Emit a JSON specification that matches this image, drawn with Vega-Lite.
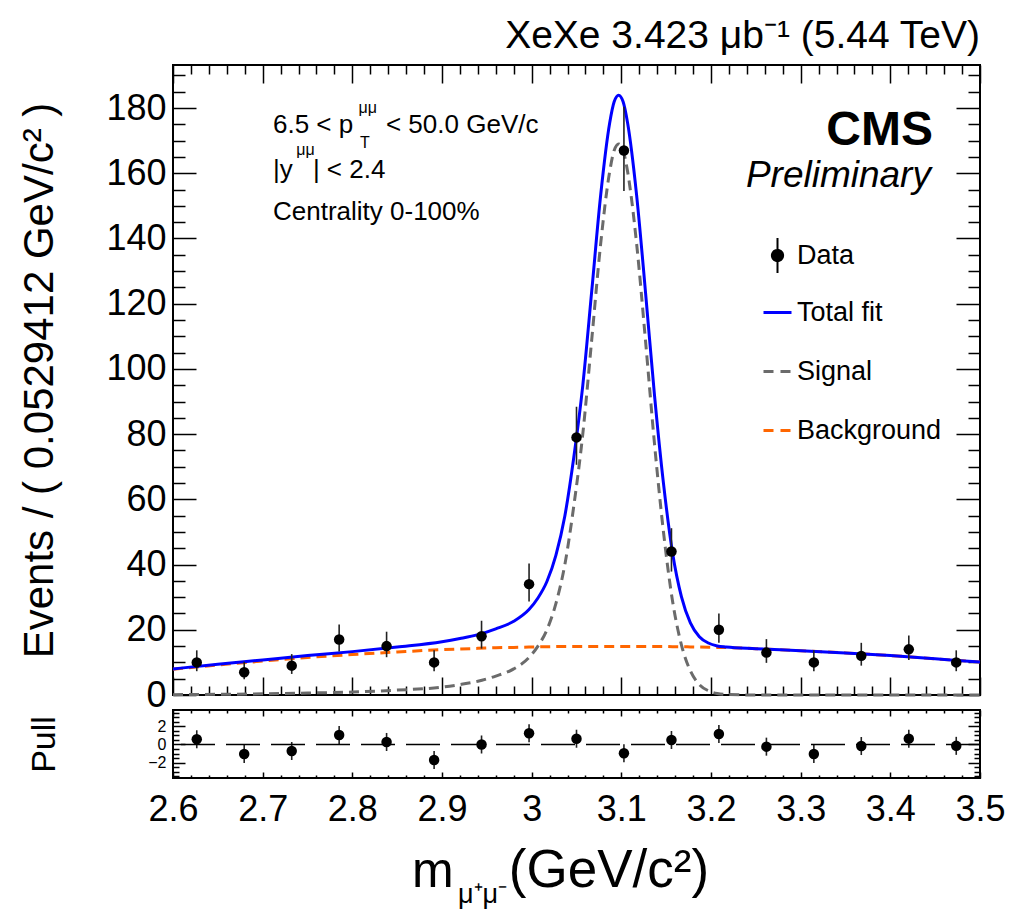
{
  "$schema": "https://vega.github.io/schema/vega-lite/v6.json",
  "padding": {"left": 17, "top": 16, "right": 0, "bottom": 0},
  "autosize": {"type": "pad"},
  "background": "white",
  "config": {
    "font": "Liberation Sans",
    "view": {"stroke": "black", "strokeWidth": 2},
    "axis": {"grid": false, "domain": false, "tickColor": "black", "tickWidth": 1.5, "labelColor": "black", "titleColor": "black", "labelFont": "Liberation Sans", "titleFont": "Liberation Sans", "titleFontWeight": "normal"}
  },
  "datasets": {
    "bins": [
      {"m": 2.6265, "n": 10, "lo": 7.3, "hi": 13.7, "pull": 0.58, "plo": -0.42, "phi": 1.58},
      {"m": 2.6794, "n": 7, "lo": 4.81, "hi": 10.19, "pull": -1.06, "plo": -2.06, "phi": -0.06},
      {"m": 2.7324, "n": 9, "lo": 6.46, "hi": 12.54, "pull": -0.72, "plo": -1.72, "phi": 0.28},
      {"m": 2.7853, "n": 17, "lo": 13.35, "hi": 21.65, "pull": 1.06, "plo": 0.06, "phi": 2.06},
      {"m": 2.8382, "n": 15, "lo": 11.59, "hi": 19.41, "pull": 0.28, "plo": -0.72, "phi": 1.28},
      {"m": 2.8912, "n": 10, "lo": 7.3, "hi": 13.7, "pull": -1.72, "plo": -2.72, "phi": -0.72},
      {"m": 2.9441, "n": 18, "lo": 14.23, "hi": 22.77, "pull": 0.0, "plo": -1.0, "phi": 1.0},
      {"m": 2.9971, "n": 34, "lo": 28.65, "hi": 40.35, "pull": 1.24, "plo": 0.24, "phi": 2.24},
      {"m": 3.05, "n": 79, "lo": 70.6, "hi": 88.4, "pull": 0.64, "plo": -0.36, "phi": 1.64},
      {"m": 3.1029, "n": 167, "lo": 154.57, "hi": 180.43, "pull": -0.98, "plo": -1.98, "phi": 0.02},
      {"m": 3.1559, "n": 44, "lo": 37.85, "hi": 51.15, "pull": 0.5, "plo": -0.5, "phi": 1.5},
      {"m": 3.2088, "n": 20, "lo": 16.0, "hi": 25.0, "pull": 1.17, "plo": 0.17, "phi": 2.17},
      {"m": 3.2618, "n": 13, "lo": 9.86, "hi": 17.14, "pull": -0.24, "plo": -1.24, "phi": 0.76},
      {"m": 3.3147, "n": 10, "lo": 7.3, "hi": 13.7, "pull": -1.06, "plo": -2.06, "phi": -0.06},
      {"m": 3.3676, "n": 12, "lo": 9.0, "hi": 16.0, "pull": -0.17, "plo": -1.17, "phi": 0.83},
      {"m": 3.4206, "n": 14, "lo": 10.73, "hi": 18.27, "pull": 0.65, "plo": -0.35, "phi": 1.65},
      {"m": 3.4735, "n": 10, "lo": 7.3, "hi": 13.7, "pull": -0.15, "plo": -1.15, "phi": 0.85}
    ],
    "curves": [
      {"m": 2.6, "signal": 0.1, "background": 7.9, "total": 8.0},
      {"m": 2.65, "signal": 0.2, "background": 9.2, "total": 9.4},
      {"m": 2.7, "signal": 0.35, "background": 10.4, "total": 10.75},
      {"m": 2.75, "signal": 0.6, "background": 11.5, "total": 12.1},
      {"m": 2.8, "signal": 0.9, "background": 12.4, "total": 13.3},
      {"m": 2.85, "signal": 1.5, "background": 13.2, "total": 14.7},
      {"m": 2.9, "signal": 2.4, "background": 13.9, "total": 16.3},
      {"m": 2.92, "signal": 3.2, "background": 14.1, "total": 17.3},
      {"m": 2.94, "signal": 4.2, "background": 14.3, "total": 18.5},
      {"m": 2.96, "signal": 5.8, "background": 14.5, "total": 20.3},
      {"m": 2.98, "signal": 8.0, "background": 14.6, "total": 22.6},
      {"m": 2.997, "signal": 11.5, "background": 14.7, "total": 26.2},
      {"m": 3.007, "signal": 15.0, "background": 14.75, "total": 29.75},
      {"m": 3.017, "signal": 20.0, "background": 14.8, "total": 34.8},
      {"m": 3.027, "signal": 28.0, "background": 14.85, "total": 42.85},
      {"m": 3.037, "signal": 40.0, "background": 14.9, "total": 54.9},
      {"m": 3.047, "signal": 58.0, "background": 14.9, "total": 72.9},
      {"m": 3.057, "signal": 80.0, "background": 14.9, "total": 94.9},
      {"m": 3.067, "signal": 109.0, "background": 14.9, "total": 123.9},
      {"m": 3.077, "signal": 138.5, "background": 14.9, "total": 153.4},
      {"m": 3.087, "signal": 160.5, "background": 14.9, "total": 175.4},
      {"m": 3.092, "signal": 167.0, "background": 14.9, "total": 181.9},
      {"m": 3.097, "signal": 169.0, "background": 14.9, "total": 183.9},
      {"m": 3.102, "signal": 167.0, "background": 14.9, "total": 181.9},
      {"m": 3.107, "signal": 160.5, "background": 14.9, "total": 175.4},
      {"m": 3.117, "signal": 138.5, "background": 14.9, "total": 153.4},
      {"m": 3.127, "signal": 108.5, "background": 14.9, "total": 123.4},
      {"m": 3.137, "signal": 77.0, "background": 14.9, "total": 91.9},
      {"m": 3.147, "signal": 50.0, "background": 14.9, "total": 64.9},
      {"m": 3.157, "signal": 29.0, "background": 14.8, "total": 43.8},
      {"m": 3.167, "signal": 15.4, "background": 14.8, "total": 30.2},
      {"m": 3.177, "signal": 7.4, "background": 14.75, "total": 22.15},
      {"m": 3.187, "signal": 3.2, "background": 14.7, "total": 17.9},
      {"m": 3.197, "signal": 1.3, "background": 14.65, "total": 15.95},
      {"m": 3.207, "signal": 0.45, "background": 14.6, "total": 15.05},
      {"m": 3.217, "signal": 0.15, "background": 14.55, "total": 14.7},
      {"m": 3.25, "signal": 0.0, "background": 14.2, "total": 14.2},
      {"m": 3.3, "signal": 0.0, "background": 13.6, "total": 13.6},
      {"m": 3.35, "signal": 0.0, "background": 12.9, "total": 12.9},
      {"m": 3.4, "signal": 0.0, "background": 12.1, "total": 12.1},
      {"m": 3.45, "signal": 0.0, "background": 11.1, "total": 11.1},
      {"m": 3.5, "signal": 0.0, "background": 10.1, "total": 10.1}
    ],
    "one": [{}]
  },
  "resolve": {"scale": {"color": "independent"}, "legend": {"color": "independent"}},
  "spacing": 15,
  "bounds": "flush",
  "vconcat": [
    {
      "width": 807,
      "height": 630,
      "title": {"text": "XeXe 3.423 μb⁻¹ (5.44 TeV)", "anchor": "end", "frame": "group", "fontSize": 39, "fontWeight": "normal", "font": "Liberation Sans", "color": "black", "offset": 8},
      "resolve": {"axis": {"x": "independent", "y": "independent"}},
      "layer": [
        {
          "data": {"name": "curves"},
          "mark": {"type": "line", "strokeWidth": 3, "strokeDash": [10, 6], "interpolate": "monotone"},
          "encoding": {
            "x": {"field": "m", "type": "quantitative", "scale": {"domain": [2.6, 3.5], "nice": false, "zero": false},
              "axis": {"orient": "bottom", "values": [2.6, 2.7, 2.8, 2.9, 3.0, 3.1, 3.2, 3.3, 3.4, 3.5], "labels": false, "tickSize": -18, "title": null}},
            "y": {"field": "background", "type": "quantitative", "scale": {"domain": [0, 193.2], "nice": false, "zero": false},
              "axis": {"orient": "left", "values": [0, 20, 40, 60, 80, 100, 120, 140, 160, 180], "tickSize": -23, "labelPadding": 30, "labelFontSize": 36, "labelOverlap": false, "title": "Events / ( 0.0529412 GeV/c² )", "titleFontSize": 42, "titlePadding": 44}},
            "color": {"datum": "Background", "type": "nominal",
              "scale": {"domain": ["Data", "Total fit", "Signal", "Background"], "range": ["#000000", "#0000ff", "#6b6b6b", "#ff6600"]},
              "legend": {"orient": "none", "legendX": 591, "legendY": 177, "title": null, "symbolType": "stroke", "symbolSize": 784, "symbolStrokeWidth": 3, "labelFontSize": 27, "labelFont": "Liberation Sans", "labelColor": "black", "labelOffset": 6, "rowPadding": 12, "padding": 0, "labelLimit": 300,
                "encode": {"symbols": {"update": {
                  "shape": {"signal": "datum.value === 'Data' ? 'M0,-1.25L0,1.25M-0.4,0A0.4,0.4,0,1,0,0.4,0A0.4,0.4,0,1,0,-0.4,0Z' : 'M0,-1.25M0,1.25M-1,0L1,0'"},
                  "fill": {"signal": "datum.value === 'Data' ? 'black' : 'transparent'"},
                  "stroke": {"signal": "datum.value === 'Data' ? 'black' : datum.value === 'Total fit' ? '#0000ff' : datum.value === 'Signal' ? '#6b6b6b' : '#ff6600'"},
                  "strokeDash": {"signal": "datum.value === 'Signal' || datum.value === 'Background' ? [10, 7] : [1, 0]"},
                  "strokeWidth": {"signal": "datum.value === 'Data' ? 2 : 3"},
                  "opacity": {"value": 1}
                }}}}}
          }
        },
        {
          "data": {"name": "curves"},
          "mark": {"type": "line", "strokeWidth": 3, "strokeDash": [10, 6], "interpolate": "monotone"},
          "encoding": {
            "x": {"field": "m", "type": "quantitative", "axis": {"orient": "top", "values": [2.6, 2.7, 2.8, 2.9, 3.0, 3.1, 3.2, 3.3, 3.4, 3.5], "labels": false, "tickSize": -18, "title": null}},
            "y": {"field": "signal", "type": "quantitative", "axis": {"orient": "right", "values": [0, 20, 40, 60, 80, 100, 120, 140, 160, 180], "labels": false, "tickSize": -24, "title": null}},
            "color": {"datum": "Signal", "type": "nominal"}
          }
        },
        {
          "data": {"name": "curves"},
          "mark": {"type": "line", "strokeWidth": 3, "interpolate": "monotone"},
          "encoding": {
            "x": {"field": "m", "type": "quantitative", "axis": {"orient": "bottom", "values": [2.62, 2.64, 2.66, 2.68, 2.72, 2.74, 2.76, 2.78, 2.82, 2.84, 2.86, 2.88, 2.92, 2.94, 2.96, 2.98, 3.02, 3.04, 3.06, 3.08, 3.12, 3.14, 3.16, 3.18, 3.22, 3.24, 3.26, 3.28, 3.32, 3.34, 3.36, 3.38, 3.42, 3.44, 3.46, 3.48], "labels": false, "tickSize": -9, "title": null}},
            "y": {"field": "total", "type": "quantitative", "axis": {"orient": "left", "values": [5, 10, 15, 25, 30, 35, 45, 50, 55, 65, 70, 75, 85, 90, 95, 105, 110, 115, 125, 130, 135, 145, 150, 155, 165, 170, 175, 185, 190], "labels": false, "tickSize": -12, "title": null}},
            "color": {"datum": "Total fit", "type": "nominal"}
          }
        },
        {
          "data": {"name": "bins"},
          "mark": {"type": "rule", "strokeWidth": 1.6, "color": "#222222"},
          "encoding": {
            "x": {"field": "m", "type": "quantitative", "axis": {"orient": "top", "values": [2.62, 2.64, 2.66, 2.68, 2.72, 2.74, 2.76, 2.78, 2.82, 2.84, 2.86, 2.88, 2.92, 2.94, 2.96, 2.98, 3.02, 3.04, 3.06, 3.08, 3.12, 3.14, 3.16, 3.18, 3.22, 3.24, 3.26, 3.28, 3.32, 3.34, 3.36, 3.38, 3.42, 3.44, 3.46, 3.48], "labels": false, "tickSize": -9, "title": null}},
            "y": {"field": "lo", "type": "quantitative", "axis": {"orient": "right", "values": [5, 10, 15, 25, 30, 35, 45, 50, 55, 65, 70, 75, 85, 90, 95, 105, 110, 115, 125, 130, 135, 145, 150, 155, 165, 170, 175, 185, 190], "labels": false, "tickSize": -12, "title": null}},
            "y2": {"field": "hi"}
          }
        },
        {
          "data": {"name": "bins"},
          "mark": {"type": "point", "filled": true, "size": 110, "opacity": 1},
          "encoding": {
            "x": {"field": "m", "type": "quantitative", "axis": null},
            "y": {"field": "n", "type": "quantitative", "axis": null},
            "color": {"datum": "Data", "type": "nominal"}
          }
        },
        {
          "data": {"name": "one"},
          "mark": {"type": "text", "fontSize": 26, "align": "left", "baseline": "alphabetic", "color": "black", "text": "6.5 < p"},
          "encoding": {"x": {"datum": 2.7115, "type": "quantitative", "axis": null}, "y": {"datum": 172.2, "type": "quantitative", "axis": null}}
        },
        {
          "data": {"name": "one"},
          "mark": {"type": "text", "fontSize": 16, "align": "left", "baseline": "alphabetic", "color": "black", "text": "μμ"},
          "encoding": {"x": {"datum": 2.807, "type": "quantitative", "axis": null}, "y": {"datum": 178.5, "type": "quantitative", "axis": null}}
        },
        {
          "data": {"name": "one"},
          "mark": {"type": "text", "fontSize": 16, "align": "left", "baseline": "alphabetic", "color": "black", "text": "T"},
          "encoding": {"x": {"datum": 2.8085, "type": "quantitative", "axis": null}, "y": {"datum": 167.7, "type": "quantitative", "axis": null}}
        },
        {
          "data": {"name": "one"},
          "mark": {"type": "text", "fontSize": 26, "align": "left", "baseline": "alphabetic", "color": "black", "text": "< 50.0 GeV/c"},
          "encoding": {"x": {"datum": 2.8375, "type": "quantitative", "axis": null}, "y": {"datum": 172.2, "type": "quantitative", "axis": null}}
        },
        {
          "data": {"name": "one"},
          "mark": {"type": "text", "fontSize": 26, "align": "left", "baseline": "alphabetic", "color": "black", "text": "|y"},
          "encoding": {"x": {"datum": 2.7115, "type": "quantitative", "axis": null}, "y": {"datum": 158.4, "type": "quantitative", "axis": null}}
        },
        {
          "data": {"name": "one"},
          "mark": {"type": "text", "fontSize": 16, "align": "left", "baseline": "alphabetic", "color": "black", "text": "μμ"},
          "encoding": {"x": {"datum": 2.7375, "type": "quantitative", "axis": null}, "y": {"datum": 165.5, "type": "quantitative", "axis": null}}
        },
        {
          "data": {"name": "one"},
          "mark": {"type": "text", "fontSize": 26, "align": "left", "baseline": "alphabetic", "color": "black", "text": "| < 2.4"},
          "encoding": {"x": {"datum": 2.756, "type": "quantitative", "axis": null}, "y": {"datum": 158.4, "type": "quantitative", "axis": null}}
        },
        {
          "data": {"name": "one"},
          "mark": {"type": "text", "fontSize": 26, "align": "left", "baseline": "alphabetic", "color": "black", "text": "Centrality 0-100%"},
          "encoding": {"x": {"datum": 2.7115, "type": "quantitative", "axis": null}, "y": {"datum": 145.7, "type": "quantitative", "axis": null}}
        },
        {
          "data": {"name": "one"},
          "mark": {"type": "text", "fontSize": 48, "fontWeight": "bold", "align": "right", "baseline": "alphabetic", "color": "black", "text": "CMS"},
          "encoding": {"x": {"datum": 3.4475, "type": "quantitative", "axis": null}, "y": {"datum": 168.7, "type": "quantitative", "axis": null}}
        },
        {
          "data": {"name": "one"},
          "mark": {"type": "text", "fontSize": 37, "fontStyle": "italic", "align": "right", "baseline": "alphabetic", "color": "black", "text": "Preliminary"},
          "encoding": {"x": {"datum": 3.4453, "type": "quantitative", "axis": null}, "y": {"datum": 155.9, "type": "quantitative", "axis": null}}
        }
      ]
    },
    {
      "width": 807,
      "height": 68,
      "resolve": {"axis": {"x": "independent", "y": "independent"}},
      "layer": [
        {
          "data": {"name": "bins"},
          "mark": {"type": "rule", "strokeWidth": 1.6, "color": "#222222"},
          "encoding": {
            "x": {"field": "m", "type": "quantitative", "scale": {"domain": [2.6, 3.5], "nice": false, "zero": false},
              "axis": {"orient": "bottom", "values": [2.6, 2.7, 2.8, 2.9, 3.0, 3.1, 3.2, 3.3, 3.4, 3.5], "format": ".1~f", "labelFontSize": 36, "tickSize": -6, "labelPadding": 20, "labelFlush": false, "labelOverlap": false, "title": null}},
            "y": {"field": "plo", "type": "quantitative", "scale": {"domain": [-3.72, 3.83], "nice": false, "zero": false},
              "axis": {"orient": "left", "values": [-2, 0, 2], "labelFontSize": 16, "labelOverlap": false, "tickSize": -12, "labelPadding": 19, "title": "Pull", "titleFontSize": 34, "titlePadding": 86}},
            "y2": {"field": "phi"}
          }
        },
        {
          "data": {"name": "one"},
          "mark": {"type": "rule", "strokeWidth": 1.5, "color": "black", "strokeDash": [34, 11]},
          "encoding": {"y": {"datum": 0, "type": "quantitative", "axis": null}}
        },
        {
          "data": {"name": "bins"},
          "mark": {"type": "point", "filled": true, "size": 110, "opacity": 1, "color": "black"},
          "encoding": {
            "x": {"field": "m", "type": "quantitative", "axis": {"orient": "top", "values": [2.6, 2.7, 2.8, 2.9, 3.0, 3.1, 3.2, 3.3, 3.4, 3.5], "labels": false, "tickSize": -6, "title": null}},
            "y": {"field": "pull", "type": "quantitative", "axis": {"orient": "right", "values": [-2, 0, 2], "labels": false, "tickSize": -12, "title": null}}
          }
        },
        {
          "data": {"name": "bins"},
          "mark": {"type": "point", "filled": true, "size": 110, "opacity": 0},
          "encoding": {
            "x": {"field": "m", "type": "quantitative", "axis": {"orient": "bottom", "values": [2.62, 2.64, 2.66, 2.68, 2.72, 2.74, 2.76, 2.78, 2.82, 2.84, 2.86, 2.88, 2.92, 2.94, 2.96, 2.98, 3.02, 3.04, 3.06, 3.08, 3.12, 3.14, 3.16, 3.18, 3.22, 3.24, 3.26, 3.28, 3.32, 3.34, 3.36, 3.38, 3.42, 3.44, 3.46, 3.48], "labels": false, "tickSize": -3, "title": null}},
            "y": {"field": "pull", "type": "quantitative", "axis": {"orient": "left", "values": [-3.5, -3, -2.5, -1.5, -1, -0.5, 0.5, 1, 1.5, 2.5, 3, 3.5], "labels": false, "tickSize": -6, "title": null}}
          }
        },
        {
          "data": {"name": "bins"},
          "mark": {"type": "point", "filled": true, "size": 110, "opacity": 0},
          "encoding": {
            "x": {"field": "m", "type": "quantitative", "axis": {"orient": "top", "values": [2.62, 2.64, 2.66, 2.68, 2.72, 2.74, 2.76, 2.78, 2.82, 2.84, 2.86, 2.88, 2.92, 2.94, 2.96, 2.98, 3.02, 3.04, 3.06, 3.08, 3.12, 3.14, 3.16, 3.18, 3.22, 3.24, 3.26, 3.28, 3.32, 3.34, 3.36, 3.38, 3.42, 3.44, 3.46, 3.48], "labels": false, "tickSize": -3, "title": null}},
            "y": {"field": "pull", "type": "quantitative", "axis": {"orient": "right", "values": [-3.5, -3, -2.5, -1.5, -1, -0.5, 0.5, 1, 1.5, 2.5, 3, 3.5], "labels": false, "tickSize": -6, "title": null}}
          }
        },
        {
          "data": {"name": "one"},
          "mark": {"type": "text", "fontSize": 50, "align": "left", "baseline": "alphabetic", "color": "black", "text": "m"},
          "encoding": {"x": {"datum": 2.8665, "type": "quantitative", "axis": null}, "y": {"datum": -15.82, "type": "quantitative", "axis": null}}
        },
        {
          "data": {"name": "one"},
          "mark": {"type": "text", "fontSize": 27, "align": "left", "baseline": "alphabetic", "color": "black", "text": "μ⁺μ⁻"},
          "encoding": {"x": {"datum": 2.9178, "type": "quantitative", "axis": null}, "y": {"datum": -17.6, "type": "quantitative", "axis": null}}
        },
        {
          "data": {"name": "one"},
          "mark": {"type": "text", "fontSize": 53, "align": "left", "baseline": "alphabetic", "color": "black", "text": "(GeV/c²)"},
          "encoding": {"x": {"datum": 2.9745, "type": "quantitative", "axis": null}, "y": {"datum": -15.82, "type": "quantitative", "axis": null}}
        }
      ]
    }
  ]
}
